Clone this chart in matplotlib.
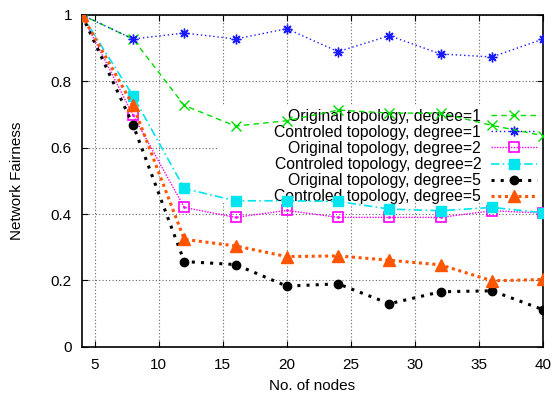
import matplotlib
matplotlib.use("Agg")
import matplotlib.pyplot as plt
from matplotlib.patches import Rectangle

plt.rcParams['font.family'] = ['Liberation Sans', 'DejaVu Sans']

nodes = [4, 8, 12, 16, 20, 24, 28, 32, 36, 40]
orig_d1 = [1.0, 0.927, 0.727, 0.665, 0.681, 0.713, 0.704, 0.704, 0.667, 0.636]
ctrl_d1 = [1.0, 0.927, 0.945, 0.927, 0.958, 0.889, 0.937, 0.882, 0.873, 0.927]
orig_d2 = [1.0, 0.698, 0.420, 0.390, 0.411, 0.390, 0.390, 0.390, 0.410, 0.403]
ctrl_d2 = [1.0, 0.756, 0.477, 0.440, 0.440, 0.438, 0.415, 0.410, 0.420, 0.404]
orig_d5 = [1.0, 0.669, 0.257, 0.248, 0.183, 0.190, 0.130, 0.166, 0.169, 0.112]
ctrl_d5 = [1.0, 0.728, 0.324, 0.304, 0.272, 0.274, 0.261, 0.247, 0.199, 0.203]

labels = ["Original topology, degree=1", "Controled topology, degree=1",
          "Original topology, degree=2", "Controled topology, degree=2",
          "Original topology, degree=5", "Controled topology, degree=5"]

xticks = [5, 10, 15, 20, 25, 30, 35, 40]
yticks = [0, 0.2, 0.4, 0.6, 0.8, 1]
yticklabels = ["0", "0.2", "0.4", "0.6", "0.8", "1"]

fig = plt.figure(figsize=(5.54, 3.94), dpi=100)
ax = fig.add_axes([0.1475, 0.1195, 0.833, 0.843])

ax.plot(nodes, orig_d1, color='#00dd00', linestyle=(0, (4, 3)), linewidth=1.0,
        marker='x', markersize=6.5, markeredgewidth=1.0, label=labels[0], zorder=3)
ax.plot(nodes, ctrl_d1, color='#1a1aff', linestyle=(0, (1, 2)), linewidth=1.0,
        marker=(8, 2, 0), markersize=7, markeredgewidth=1.0, label=labels[1], zorder=3)
ax.plot(nodes, orig_d2, color='#ff00ff', linestyle=(0, (1, 1)), linewidth=1.0,
        marker='s', markersize=6.5, markerfacecolor='none', markeredgewidth=1.2,
        label=labels[2], zorder=3)
ax.plot(nodes, orig_d2, color='#ff00ff', linestyle='none', marker='.', markersize=2,
        zorder=3)
ax.plot(nodes, ctrl_d2, color='#00e5ee', linestyle=(0, (5, 2, 1, 2)), linewidth=1.2,
        marker='s', markersize=6.5, label=labels[3], zorder=3)
ax.plot(nodes, orig_d5, color='#000000', linestyle=(0, (1, 2)), linewidth=2.2,
        marker='o', markersize=6, label=labels[4], zorder=3)
ax.plot(nodes, ctrl_d5, color='#ff5500', linestyle=(0, (1, 1.2)), linewidth=2.2,
        marker='^', markersize=8, label=labels[5], zorder=3)

ax.set_xlim(4, 40)
ax.set_ylim(0, 1)
ax.set_xticks(xticks)
ax.set_yticks(yticks)
ax.set_yticklabels(yticklabels)
ax.tick_params(direction='in', length=4, width=0.8, labelsize=11, top=True, right=True)
ax.tick_params(axis='x', pad=8)
ax.tick_params(axis='y', pad=7)
ax.set_axisbelow(True)
ax.grid(True, color='#666666', linestyle=(0, (1, 2)), linewidth=0.8)
for s in ax.spines.values():
    s.set_linewidth(1.2)

ax.set_xlabel("No. of nodes", fontsize=11, labelpad=5)
ax.set_ylabel("Network Fairness", fontsize=11, labelpad=19)

# opaque key background (gnuplot style)
ax.add_patch(Rectangle((0.293, 0.44), 0.707, 0.286, transform=ax.transAxes,
                       facecolor='white', edgecolor='none', zorder=1))

leg = ax.legend(loc='upper right', bbox_to_anchor=(1.0, 0.736), markerfirst=False,
                frameon=False, fontsize=11.3, handlelength=2.9, handletextpad=0.65,
                labelspacing=0.07, borderaxespad=0.0, borderpad=0.4)
leg.set_zorder(2)

fig.savefig("out.png", dpi=100)
